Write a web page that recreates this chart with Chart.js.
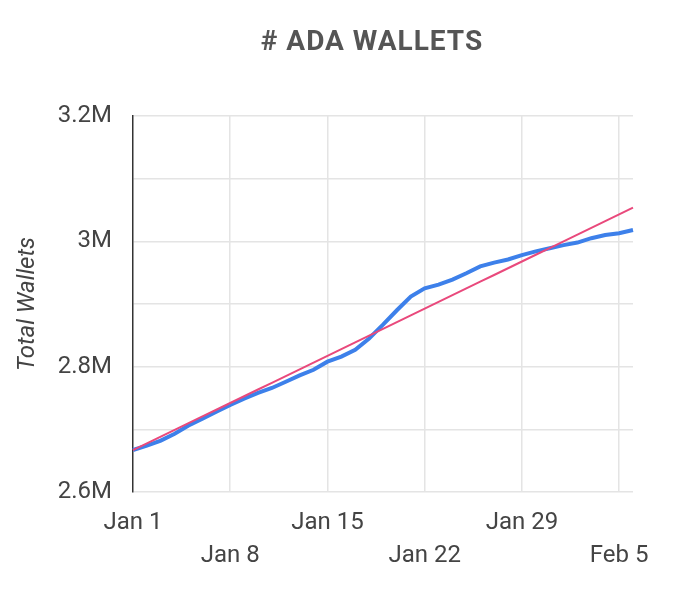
<!DOCTYPE html>
<html>
<head>
<meta charset="utf-8">
<title># ADA WALLETS</title>
<script src="https://cdn.jsdelivr.net/npm/chart.js@4.4.1/dist/chart.umd.min.js"></script>
<style>
    html, body { margin: 0; padding: 0; background: #fff; }
    #wrap { width: 691px; height: 600px; }
</style>
</head>
<body>
<div id="wrap"><canvas id="wallets-chart"></canvas></div>
<script>
    "use strict";

    // daily categories, Jan 1 .. Feb 6
    var days = ["Jan 1", "Jan 2", "Jan 3", "Jan 4", "Jan 5", "Jan 6", "Jan 7", "Jan 8",
        "Jan 9", "Jan 10", "Jan 11", "Jan 12", "Jan 13", "Jan 14", "Jan 15", "Jan 16",
        "Jan 17", "Jan 18", "Jan 19", "Jan 20", "Jan 21", "Jan 22", "Jan 23", "Jan 24",
        "Jan 25", "Jan 26", "Jan 27", "Jan 28", "Jan 29", "Jan 30", "Jan 31", "Feb 1",
        "Feb 2", "Feb 3", "Feb 4", "Feb 5", "Feb 6"];

    // total wallets per day
    var wallets = [2667000, 2674000, 2682000, 2693000, 2706000, 2717000, 2728000, 2739000,
        2749000, 2758000, 2766000, 2776000, 2786000, 2795000, 2808000, 2816000,
        2827000, 2845000, 2867000, 2890000, 2912000, 2925000, 2931000, 2939000,
        2949000, 2960000, 2966000, 2971000, 2978000, 2984000, 2989000, 2994000,
        2998000, 3005000, 3010000, 3013000, 3018000];

    var xTickLabels = ["Jan 1", "Jan 8", "Jan 15", "Jan 22", "Jan 29", "Feb 5"];
    var yTickLabels = [2600000, 2800000, 3000000, 3200000];

    // least squares trend over the daily series
    function trendLine(values) {
        var n = values.length, sx = 0, sy = 0, sxy = 0, sxx = 0;
        values.forEach(function (v, i) {
            sx += i; sy += v; sxy += i * v; sxx += i * i;
        });
        var slope = (n * sxy - sx * sy) / (n * sxx - sx * sx);
        var icpt = (sy - slope * sx) / n;
        return values.map(function (v, i) { return icpt + slope * i; });
    }

    var GRID = "#e4e4e4";
    var TEXT = "#444";
    var FONT = "Roboto, 'Noto Sans', sans-serif";

    // title sits a bit left of the plot centre, so draw it ourselves
    var chartHeading = {
        id: "chartHeading",
        afterDraw: function (chart) {
            var ctx = chart.ctx;
            ctx.save();
            ctx.font = "bold 28px " + FONT;
            ctx.letterSpacing = "1px";
            ctx.fillStyle = "#555";
            ctx.textAlign = "center";
            ctx.textBaseline = "middle";
            ctx.fillText("# ADA WALLETS", 372, 43);
            ctx.restore();
        }
    };

    var ctx1 = document.getElementById("wallets-chart").getContext("2d");
    var walletChart = new Chart(ctx1, {
        type: "line",
        data: {
            labels: days,
            datasets: [{
                label: "Trend",
                data: trendLine(wallets),
                borderColor: "#e9497c",
                borderWidth: 2,
                pointRadius: 0,
                order: 0
            },
            {
                label: "Total Wallets",
                data: wallets,
                borderColor: "#3d80ea",
                borderWidth: 4,
                pointRadius: 0,
                tension: 0,
                order: 1
            }]
        },
        options: {
            responsive: true,
            maintainAspectRatio: false,
            animation: false,
            layout: { padding: { top: 116, right: 58, bottom: 0, left: 0 } },
            plugins: {
                legend: { display: false },
                tooltip: { enabled: false }
            },
            scales: {
                x: {
                    afterFit: function (scale) { scale.height = 108; },
                    border: { display: false },
                    grid: {
                        drawTicks: false,
                        lineWidth: 1.5,
                        color: function (c) {
                            var lbl = days[c.index];
                            return (c.index > 0 && xTickLabels.indexOf(lbl) >= 0) ? GRID : "rgba(0,0,0,0)";
                        }
                    },
                    ticks: {
                        autoSkip: false,
                        maxRotation: 0,
                        padding: 14,
                        color: TEXT,
                        font: { family: FONT, size: 24, lineHeight: 1.375 },
                        callback: function (value) {
                            var lbl = this.getLabelForValue(value);
                            var pos = xTickLabels.indexOf(lbl);
                            if (pos < 0) return "";
                            return pos % 2 === 0 ? [lbl, ""] : ["", lbl];
                        }
                    }
                },
                y: {
                    min: 2600000,
                    max: 3200000,
                    afterFit: function (scale) { scale.width = 133; },
                    border: { color: "#333", width: 1.5 },
                    grid: { drawTicks: false, color: GRID, lineWidth: 1.5 },
                    title: {
                        display: true,
                        text: "Total Wallets",
                        color: TEXT,
                        font: { family: FONT, size: 24, style: "italic" },
                        padding: { top: 14, bottom: 0 }
                    },
                    ticks: {
                        stepSize: 100000,
                        padding: 21,
                        color: TEXT,
                        font: { family: FONT, size: 24 },
                        callback: function (value) {
                            if (yTickLabels.indexOf(value) < 0) return "";
                            return (value / 1e6) + "M";
                        }
                    }
                }
            }
        },
        plugins: [chartHeading]
    });
</script>
</body>
</html>
